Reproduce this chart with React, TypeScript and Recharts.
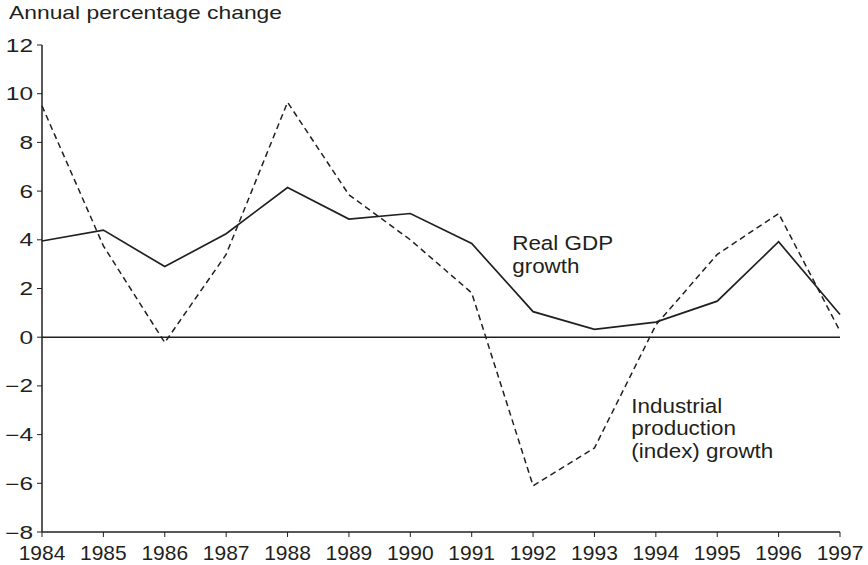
import {
  LineChart,
  Line,
  XAxis,
  YAxis,
  ReferenceLine,
  ReferenceDot,
} from "recharts";

const years = [
  1984, 1985, 1986, 1987, 1988, 1989, 1990, 1991, 1992, 1993, 1994, 1995, 1996,
  1997,
];
const gdpGrowth = [
  3.95, 4.4, 2.9, 4.25, 6.15, 4.85, 5.08, 3.85, 1.05, 0.32, 0.62, 1.48, 3.92,
  0.93,
];
const industrialGrowth = [
  9.5, 3.75, -0.22, 3.4, 9.65, 5.85, 4.0, 1.82, -6.1, -4.55, 0.5, 3.4, 5.08,
  0.25,
];
const yTicks = [-8, -6, -4, -2, 0, 2, 4, 6, 8, 10, 12];

const data = years.map((year, i) => ({
  year,
  gdp: gdpGrowth[i],
  ip: industrialGrowth[i],
}));

const FONT = "'Liberation Sans', Arial, sans-serif";
const INK = "#231f20";

function XTick({ x, y, payload }: any) {
  return (
    <text
      x={x}
      y={y}
      dy={21}
      textAnchor="middle"
      fontFamily={FONT}
      fontSize={21}
      fill={INK}
    >
      {payload.value}
    </text>
  );
}

function YTick({ x, y, payload }: any) {
  const label = payload.value < 0 ? `\u2212${-payload.value}` : `${payload.value}`;
  return (
    <g transform={`translate(${x - 2},${y + 6.5}) scale(1.4,1)`}>
      <text x={0} y={0} textAnchor="end" fontFamily={FONT} fontSize={17.5} fill={INK}>
        {label}
      </text>
    </g>
  );
}

function MultiLine({ viewBox, lines }: any) {
  const { x, y } = viewBox;
  return (
    <g transform={`translate(${x},${y}) scale(1.15,1)`}>
      <text fontFamily={FONT} fontSize={19.5} fill={INK}>
        {lines.map((t: string, i: number) => (
          <tspan key={i} x={0} y={i * 22.5}>
            {t}
          </tspan>
        ))}
      </text>
    </g>
  );
}

export default function App() {
  return (
    <div style={{ width: 868, height: 565 }}>
      <style>{`body{margin:0}`}</style>
      <LineChart
        width={868}
        height={565}
        data={data}
        margin={{ top: 45, right: 28, left: 0, bottom: 0 }}
      >
        <text x={9} y={18.5} fontFamily={FONT} fontSize={18.5} fill={INK} textLength={273} lengthAdjust="spacingAndGlyphs">
          Annual percentage change
        </text>
        <XAxis
          dataKey="year"
          type="number"
          domain={[1984, 1997]}
          ticks={years}
          height={33}
          tickSize={5}
          tick={<XTick />}
          axisLine={{ stroke: INK, strokeWidth: 1.5 }}
          tickLine={{ stroke: INK, strokeWidth: 1 }}
          interval={0}
        />
        <YAxis
          type="number"
          domain={[-8, 12]}
          ticks={yTicks}
          width={42}
          tickSize={5}
          tick={<YTick />}
          axisLine={{ stroke: INK, strokeWidth: 1.5 }}
          tickLine={{ stroke: INK, strokeWidth: 1 }}
          interval={0}
        />
        <ReferenceLine y={0} stroke={INK} strokeWidth={1.5} />
        <Line
          dataKey="gdp"
          stroke={INK}
          strokeWidth={1.7}
          dot={false}
          isAnimationActive={false}
        />
        <Line
          dataKey="ip"
          stroke={INK}
          strokeWidth={1.5}
          strokeDasharray="6 4"
          dot={false}
          isAnimationActive={false}
        />
        <ReferenceDot
          x={1991.66}
          y={3.57}
          r={0}
          fill="none"
          stroke="none"
          label={(p: any) => <MultiLine {...p} lines={["Real GDP", "growth"]} />}
        />
        <ReferenceDot
          x={1993.6}
          y={-3.1}
          r={0}
          fill="none"
          stroke="none"
          label={(p: any) => (
            <MultiLine {...p} lines={["Industrial", "production", "(index) growth"]} />
          )}
        />
      </LineChart>
    </div>
  );
}
